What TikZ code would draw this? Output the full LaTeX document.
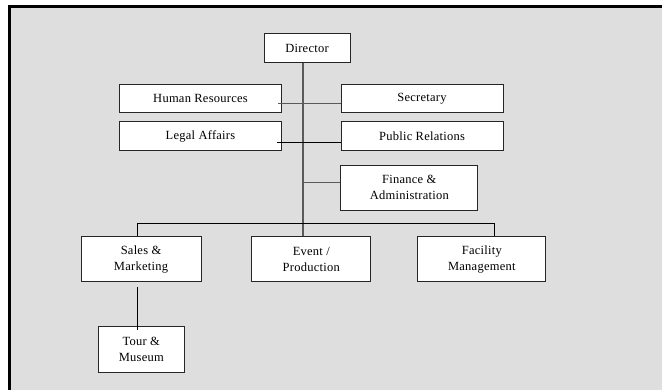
\documentclass[tikz,border=0pt]{standalone}
\usepackage{fontspec}
\setmainfont{Liberation Serif}[LetterSpace=2]
\definecolor{bggray}{HTML}{DEDEDE}
\definecolor{trunkgray}{HTML}{5A5A5A}
\begin{document}
\begin{tikzpicture}[x=1pt,y=-1pt,
  box/.style={draw=black!85,line width=0.9pt,fill=white,inner sep=0pt,
    align=center,font=\fontsize{12.5}{15.7}\selectfont},
  thinline/.style={draw=black,line width=0.8pt},
  thickline/.style={draw=trunkgray,line width=1.6pt}]
\useasboundingbox (0,0) rectangle (662,390);
\fill[white] (0,0) rectangle (662,390);
\draw[line width=3pt,fill=bggray] (9.5,6.5) rectangle (670,400);

\node[box,minimum width=86pt,minimum height=29pt] (dir) at (307,48) {Director};
\node[box,minimum width=162pt,minimum height=28pt] (hr) at (200.5,98.3) {Human Resources};
\node[box,minimum width=162pt,minimum height=29pt] (legal) at (200.5,136.2) {Legal Affairs};
\node[box,minimum width=162pt,minimum height=28pt] (sec) at (422,98.3) {Secretary};
\node[box,minimum width=162pt,minimum height=29pt] (pr) at (422,136.2) {Public Relations};
\node[box,minimum width=137pt,minimum height=45pt] (fin) at (409.3,187.5) {Finance \&\\Administration};
\node[box,minimum width=120pt,minimum height=45pt] (sales) at (141,259.3) {Sales \&\\Marketing};
\node[box,minimum width=119pt,minimum height=45pt] (event) at (311.3,259.3) {Event /\\Production};
\node[box,minimum width=128pt,minimum height=45pt] (fac) at (481.8,259.3) {Facility\\Management};
\node[box,minimum width=86pt,minimum height=45.5pt] (tour) at (141.3,349.5) {Tour \&\\Museum};

\coordinate (tx) at (303,0);
\coordinate (bus) at (0,223.3);
\coordinate (sx) at (137.3,0);
\coordinate (fx) at (494.7,0);
\coordinate (hry) at (0,103.3);
\coordinate (lgy) at (0,142.7);
\coordinate (finy) at (0,182.7);

% trunk
\draw[thickline] (dir.south -| tx) -- (event.north -| tx);
% side connectors
\draw[thickline,line width=1.3pt] ([xshift=-4pt]hr.east |- hry) -- (sec.west |- hry);
\draw[thinline] ([xshift=-5pt]legal.east |- lgy) -- (pr.west |- lgy);
\draw[thickline] (tx |- finy) -- (fin.west |- finy);
% bus
\draw[thinline] (sales.north -| sx) -- (sx |- bus) -- (fx |- bus) -- (fac.north -| fx);
% sales to tour
\draw[thinline] ([yshift=-5pt]sales.south -| sx) -- ([yshift=-3.5pt]tour.north -| sx);
\end{tikzpicture}
\end{document}
